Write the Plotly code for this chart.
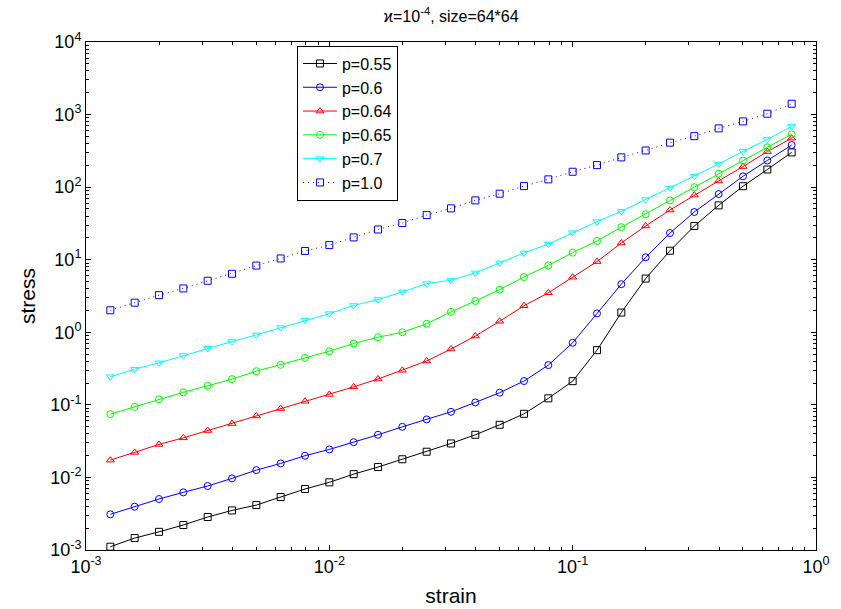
import plotly.graph_objects as go

# strain sample points (shared by every curve)
strain = [0.001259, 0.001585, 0.001995, 0.002512, 0.003162, 0.003981, 0.005012,
          0.006310, 0.007943, 0.01, 0.01259, 0.01585, 0.01995, 0.02512, 0.03162,
          0.03981, 0.05012, 0.06310, 0.07943, 0.1, 0.1259, 0.1585, 0.1995,
          0.2512, 0.3162, 0.3981, 0.5012, 0.6310, 0.7943]

# stress for each occupation probability p
stress_p055 = [0.00111, 0.00146, 0.00178, 0.00221, 0.00285, 0.00351, 0.00416,
               0.00537, 0.00693, 0.00856, 0.0111, 0.0139, 0.0178, 0.0226, 0.0294,
               0.0387, 0.0531, 0.0753, 0.123, 0.212, 0.567, 1.87, 5.5, 13.3,
               29.1, 56.1, 103, 175, 301]
stress_p060 = [0.0031, 0.00395, 0.00504, 0.00623, 0.00762, 0.0097, 0.0126,
               0.0156, 0.0199, 0.0243, 0.0306, 0.0387, 0.0498, 0.063, 0.0802,
               0.108, 0.147, 0.213, 0.353, 0.716, 1.82, 4.6, 10.8, 23.3, 45.4,
               80.3, 141, 233, 380]
stress_p064 = [0.0173, 0.0221, 0.0285, 0.0351, 0.0443, 0.0552, 0.0703, 0.0888,
               0.112, 0.139, 0.177, 0.227, 0.299, 0.402, 0.588, 0.887, 1.42,
               2.32, 3.5, 5.74, 9.42, 17.0, 29.2, 48.4, 77.7, 122, 192, 309, 472]
stress_p065 = [0.0745, 0.0939, 0.119, 0.149, 0.183, 0.226, 0.291, 0.356, 0.444,
               0.548, 0.70, 0.855, 1.0, 1.31, 1.91, 2.70, 3.87, 5.78, 8.36,
               12.5, 18.1, 28.1, 42.4, 65.5, 99.8, 153, 232, 354, 534]
stress_p070 = [0.244, 0.31, 0.379, 0.478, 0.603, 0.746, 0.92, 1.16, 1.47, 1.81,
               2.34, 2.83, 3.59, 4.69, 5.22, 6.57, 9.03, 12.4, 16.4, 23.6, 33.5,
               46.4, 67.3, 97.2, 141, 208, 311, 455, 686]
stress_p100 = [2.01, 2.56, 3.25, 4.02, 5.13, 6.4, 8.3, 10.4, 13.2, 15.9, 20.3,
               26.1, 32, 41.2, 51, 65.7, 81.2, 103.5, 128, 163, 201, 257, 320,
               410, 504, 645, 805, 1027, 1410]

labels = ["p=0.55", "p=0.6", "p=0.64", "p=0.65", "p=0.7", "p=1.0"]
colors = ["#000000", "#0000ff", "#ff0000", "#00ff00", "#00ffff", "#0000ff"]
symbols = ["square-open", "circle-open", "triangle-up-open", "circle-open",
           "triangle-down-open", "square-open"]
dashes = ["solid", "solid", "solid", "solid", "solid", "1px,4px"]
series = [stress_p055, stress_p060, stress_p064, stress_p065, stress_p070, stress_p100]

FONT = "Liberation Sans, Arial, Helvetica, sans-serif"

fig = go.Figure()
for name, ys, col, sym, dsh in zip(labels, series, colors, symbols, dashes):
    fig.add_trace(go.Scatter(
        x=strain, y=ys, name=name, mode="lines+markers",
        line=dict(color=col, width=1, dash=dsh),
        marker=dict(symbol=sym, size=7, color=col, line=dict(width=1, color=col)),
    ))

x_major = [1e-3, 1e-2, 1e-1, 1e0]
x_text = ["10<sup>-3</sup>", "10<sup>-2</sup>", "10<sup>-1</sup>", "10<sup>0</sup>"]
y_major = [1e-3, 1e-2, 1e-1, 1e0, 1e1, 1e2, 1e3, 1e4]
y_text = ["10<sup>-3</sup>", "10<sup>-2</sup>", "10<sup>-1</sup>", "10<sup>0</sup>",
          "10<sup>1</sup>", "10<sup>2</sup>", "10<sup>3</sup>", "10<sup>4</sup>"]

x_minor = [m * d for d in x_major[:-1] for m in range(2, 10)]
y_minor = [m * d for d in y_major[:-1] for m in range(2, 10)]

axis_common = dict(
    type="log", showgrid=False, zeroline=False,
    showline=True, linecolor="black", linewidth=1, mirror="allticks",
    ticks="inside", ticklen=5, tickcolor="black", tickwidth=1,
    tickfont=dict(family=FONT, size=18, color="black"),
    tickmode="array",
)

fig.update_xaxes(
    **axis_common, range=[-3, 0], tickvals=x_major, ticktext=x_text,
    minor=dict(tickmode="array", tickvals=x_minor, ticks="inside", ticklen=3,
               tickcolor="black", showgrid=False),
    title=dict(text="strain", font=dict(family=FONT, size=21, color="black"), standoff=12),
)
fig.update_yaxes(
    **axis_common, range=[-3, 4], tickvals=y_major, ticktext=y_text,
    minor=dict(tickmode="array", tickvals=y_minor, ticks="inside", ticklen=3,
               tickcolor="black", showgrid=False),
    title=dict(text="stress", font=dict(family=FONT, size=21, color="black"), standoff=8),
)

fig.update_layout(
    width=841, height=609,
    margin=dict(l=86, r=25, t=42, b=59, autoexpand=False),
    paper_bgcolor="white", plot_bgcolor="white",
    title=dict(text="ϰ=10<sup>-4</sup>, size=64*64", x=0.5363, xanchor="center",
               y=1 - 16 / 609, yanchor="middle", yref="container",
               font=dict(family=FONT, size=16, color="black")),
    legend=dict(x=0.289, y=0.993, xanchor="left", yanchor="top",
                bgcolor="white", bordercolor="black", borderwidth=1,
                font=dict(family=FONT, size=16, color="black"),
                itemwidth=34, tracegroupgap=0),
    showlegend=True,
)

fig.write_html("out.html")
